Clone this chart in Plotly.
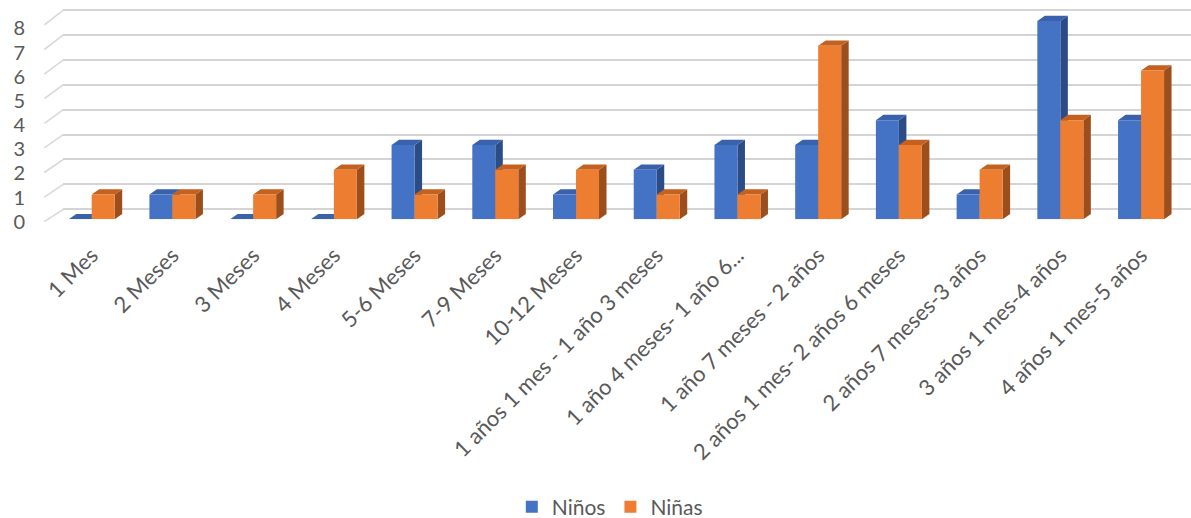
import plotly.graph_objects as go

# ---------------- data ----------------
categories = [
    "1 Mes", "2 Meses", "3 Meses", "4 Meses", "5-6 Meses", "7-9 Meses",
    "10-12 Meses", "1 años 1 mes - 1 año 3 meses", "1 año 4 meses- 1 año 6...",
    "1 año 7 meses - 2 años", "2 años 1 mes- 2 años 6 meses",
    "2 años 7 meses-3 años", "3 años 1 mes-4 años", "4 años 1 mes-5 años",
]
ninos = [0, 1, 0, 0, 3, 3, 1, 2, 3, 3, 4, 1, 8, 4]
ninas = [1, 1, 1, 2, 1, 2, 2, 1, 1, 7, 3, 2, 4, 6]
y_ticks = [0, 1, 2, 3, 4, 5, 6, 7, 8]

# ---------------- layout constants (pixels) ----------------
FW, FH = 1191, 518
CAT0_PX, CAT_PX = 91.7, 80.72          # group centre of first category, spacing
BASE_PX, UNIT_PX = 219.3, 24.79         # front face: value 0 line, px per unit
BACK0_PX, BACKU_PX = 209.3, 24.91       # back wall grid mapping
LAB0_PX, LABU_PX = 221.7, 24.17         # y tick label mapping
FRONT0_PX, FRONTU_PX = 221.7, 24.6      # front end of floor/grid stubs
STUB_X0, STUB_X1 = 44.3, 63.3

W = 23 / CAT_PX                         # bar width in category units
DX = 7.5 / CAT_PX                       # depth offset x
DY = 5.3 / UNIT_PX                      # depth offset y

BLUE, BLUE_TOP, BLUE_SIDE = "#4472C4", "#3A62AB", "#2C4C86"
ORANGE, ORANGE_TOP, ORANGE_SIDE = "#ED7D31", "#C4611F", "#9C4F1D"
TXT = "#595959"
FONT = "Lato"


def px_x(px):
    return px / FW


def px_y(px):
    return 1 - px / FH


x_range = [(0 - CAT0_PX) / CAT_PX, (FW - CAT0_PX) / CAT_PX]
y_top_val = 8.6
bar_domain = [px_y(BASE_PX), px_y(BASE_PX - y_top_val * UNIT_PX)]


def faces(vals, offset):
    tx, ty, sx, sy = [], [], [], []
    for i, v in enumerate(vals):
        xl = i + offset
        xr = xl + W
        tx += [xl, xl + DX, xr + DX, xr, xl, None]
        ty += [v, v + DY, v + DY, v, v, None]
        sx += [xr, xr + DX, xr + DX, xr, xr, None]
        sy += [0, DY, v + DY, v, 0, None]
    return tx, ty, sx, sy


fig = go.Figure()

# subplot xy: back wall grid (dummy trace)
fig.add_trace(go.Scatter(x=[None], y=[None], xaxis="x", yaxis="y",
                         showlegend=False, hoverinfo="skip"))

# subplot x2y2: top and side faces
for vals, off, ctop, cside in [(ninos, -W, BLUE_TOP, BLUE_SIDE),
                               (ninas, 0.0, ORANGE_TOP, ORANGE_SIDE)]:
    tx, ty, sx, sy = faces(vals, off)
    fig.add_trace(go.Scatter(x=sx, y=sy, xaxis="x2", yaxis="y2", mode="lines",
                             fill="toself", fillcolor=cside,
                             line=dict(width=0, color=cside),
                             showlegend=False, hoverinfo="skip"))
    fig.add_trace(go.Scatter(x=tx, y=ty, xaxis="x2", yaxis="y2", mode="lines",
                             fill="toself", fillcolor=ctop,
                             line=dict(width=0, color=ctop),
                             showlegend=False, hoverinfo="skip"))

# subplot x3y3: front faces (bars)
idx = list(range(len(categories)))
fig.add_trace(go.Bar(x=idx, y=ninos, width=W, offset=-W, name="Niños",
                     marker=dict(color=BLUE, line=dict(width=0)),
                     xaxis="x3", yaxis="y3"))
fig.add_trace(go.Bar(x=idx, y=ninas, width=W, offset=0, name="Niñas",
                     marker=dict(color=ORANGE, line=dict(width=0)),
                     xaxis="x3", yaxis="y3"))

# subplot x4y4: y tick labels
fig.add_trace(go.Scatter(x=[None], y=[None], xaxis="x4", yaxis="y4",
                         showlegend=False, hoverinfo="skip"))

# diagonal stubs of the grid (floor side)
shapes = []
for v in y_ticks:
    shapes.append(dict(type="line", xref="paper", yref="paper", layer="below",
                       x0=px_x(STUB_X0), y0=px_y(FRONT0_PX - FRONTU_PX * v),
                       x1=px_x(STUB_X1), y1=px_y(BACK0_PX - BACKU_PX * v),
                       line=dict(color="#d9d9d9", width=1.6)))

grid_lo, grid_hi = -0.1, 8.1
fig.update_layout(
    width=FW, height=FH,
    margin=dict(l=0, r=0, t=0, b=0, pad=0, autoexpand=False),
    paper_bgcolor="white", plot_bgcolor="rgba(0,0,0,0)",
    barmode="overlay",
    font=dict(family=FONT, size=20, color=TXT),
    shapes=shapes,
    showlegend=True,
    legend=dict(orientation="h", x=0.512, xanchor="center", y=px_y(507),
                yanchor="middle", font=dict(size=21, color=TXT),
                bgcolor="rgba(0,0,0,0)"),
    xaxis=dict(domain=[px_x(STUB_X1), 1], range=[0, 1], visible=False,
               fixedrange=True),
    yaxis=dict(domain=[px_y(BACK0_PX - BACKU_PX * grid_lo),
                       px_y(BACK0_PX - BACKU_PX * grid_hi)],
               range=[grid_lo, grid_hi], tickvals=y_ticks, showgrid=True,
               gridcolor="#d4d4d4", gridwidth=2, zeroline=False,
               showticklabels=False, ticks="", showline=False, anchor="x"),
    xaxis2=dict(domain=[0, 1], range=x_range, visible=False, anchor="y2"),
    yaxis2=dict(domain=bar_domain, range=[0, y_top_val], visible=False,
                anchor="x2"),
    xaxis3=dict(domain=[0, 1], range=x_range, anchor="y3", tickmode="array",
                tickvals=idx, ticktext=categories, tickangle=-45,
                ticklabelstandoff=18,
                showgrid=False, zeroline=False, showline=False, ticks="",
                tickfont=dict(size=22, color=TXT)),
    yaxis3=dict(domain=bar_domain, range=[0, y_top_val], visible=False,
                anchor="x3"),
    xaxis4=dict(domain=[px_x(26), px_x(27)], range=[0, 1], visible=False,
                anchor="y4"),
    yaxis4=dict(domain=[px_y(LAB0_PX), px_y(LAB0_PX - LABU_PX * 8)],
                range=[0, 8], tickvals=y_ticks, showgrid=False, zeroline=False,
                showline=False, ticks="", anchor="x4",
                tickfont=dict(size=20, color=TXT)),
)

fig.write_html("out.html")
